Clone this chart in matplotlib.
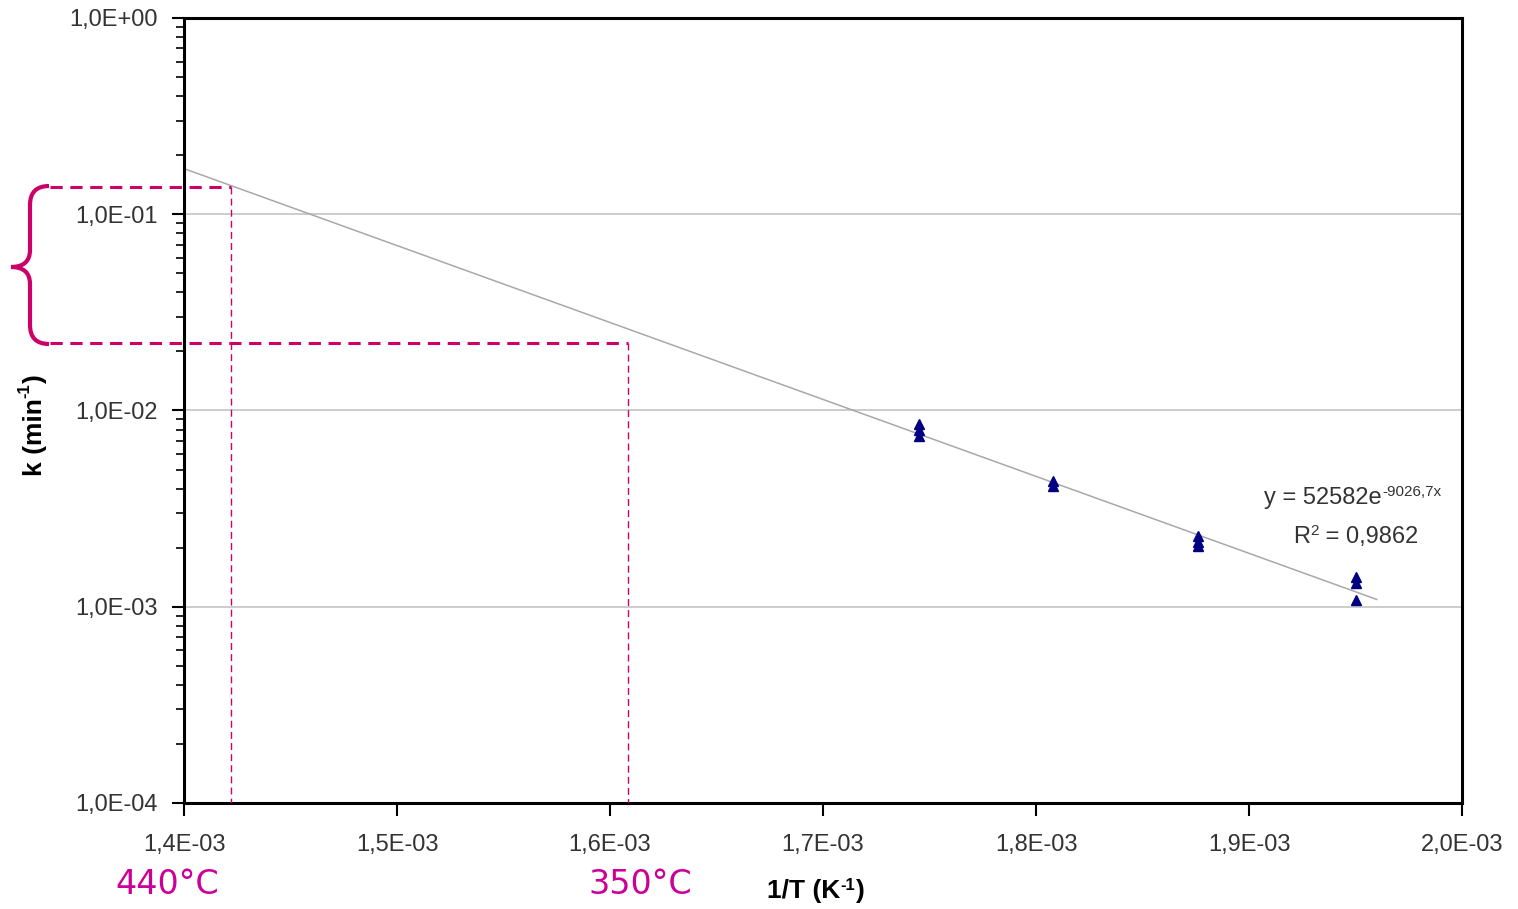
import matplotlib
matplotlib.use("Agg")
import matplotlib.pyplot as plt
from matplotlib.path import Path
from matplotlib.patches import PathPatch
from matplotlib.ticker import LogLocator, NullFormatter
import numpy as np

# measured points (1/T in K^-1, k in min^-1)
inv_T = [1.745e-3, 1.745e-3, 1.745e-3, 1.808e-3, 1.808e-3,
         1.876e-3, 1.876e-3, 1.876e-3, 1.950e-3, 1.950e-3, 1.950e-3]
k_vals = [8.5e-3, 8.0e-3, 7.4e-3, 4.35e-3, 4.1e-3,
          2.3e-3, 2.15e-3, 2.05e-3, 1.42e-3, 1.32e-3, 1.08e-3]

# exponential trend line from the chart label
fit_A = 52582
fit_b = -9026.7
fit_range = [1.4e-3, 1.96e-3]

# reading lines
read_invT = [1.422e-3, 1.6085e-3]
read_k = [0.138, 0.0221]
read_labels = ["440°C", "350°C"]

x_ticks = [1.4e-3, 1.5e-3, 1.6e-3, 1.7e-3, 1.8e-3, 1.9e-3, 2.0e-3]
x_ticklabels = ["1,4E-03", "1,5E-03", "1,6E-03", "1,7E-03", "1,8E-03", "1,9E-03", "2,0E-03"]
y_ticks = [1e-4, 1e-3, 1e-2, 1e-1, 1e0]
y_ticklabels = ["1,0E-04", "1,0E-03", "1,0E-02", "1,0E-01", "1,0E+00"]

plt.rcParams['font.family'] = ['Liberation Sans', 'DejaVu Sans']

W, H = 1518, 909
fig = plt.figure(figsize=(W / 100, H / 100), dpi=100)
ax = fig.add_axes([184 / W, 1 - 803 / H, (1462 - 184) / W, (803 - 18) / H])

magenta = '#CC0066'
text_col = '#333333'

ax.set_yscale('log')
ax.set_xlim(1.4e-3, 2.0e-3)
ax.set_ylim(1e-4, 1e0)

for y in [1e-3, 1e-2, 1e-1]:
    ax.axhline(y, color='#C8C8C8', lw=1.3, zorder=1)

fx = np.array(fit_range)
ax.plot(fx, fit_A * np.exp(fit_b * fx), color='#A8A8A8', lw=1.1, zorder=2)

ax.plot(inv_T, k_vals, linestyle='none', marker='^', color='#000080',
        markersize=7.5, zorder=3)

# reading lines: horizontal ones extend left past the axis
x0, x1 = ax.get_xlim()
x_left = x0 - (134 / 1278) * (x1 - x0)
for xv, kv in zip(read_invT, read_k):
    ax.plot([x_left, xv], [kv, kv], color=magenta, lw=2.2,
            dashes=(4, 2.5), clip_on=False, zorder=4)
    ax.plot([xv, xv], [kv, 1e-4], color=magenta, lw=1.0,
            dashes=(5, 3), zorder=4)

fig.text(167 / W, 1 - 884 / H, read_labels[0], color='#CC0099',
         fontsize=24, ha='center', va='center', family='DejaVu Sans')
fig.text(640 / W, 1 - 884 / H, read_labels[1], color='#CC0099',
         fontsize=24, ha='center', va='center', family='DejaVu Sans')

# curly brace
def fp(x, y):
    return (x / W, 1 - y / H)

verts = [fp(49, 186), fp(30, 186), fp(30, 205),
         fp(30, 250),
         fp(30, 267), fp(11, 267),
         fp(30, 267), fp(30, 284),
         fp(30, 325),
         fp(30, 344), fp(49, 344)]
codes = [Path.MOVETO, Path.CURVE3, Path.CURVE3,
         Path.LINETO,
         Path.CURVE3, Path.CURVE3,
         Path.CURVE3, Path.CURVE3,
         Path.LINETO,
         Path.CURVE3, Path.CURVE3]
fig.patches.append(PathPatch(Path(verts, codes), transform=fig.transFigure,
                             fill=False, edgecolor=magenta, lw=3))

ax.set_xticks(x_ticks)
ax.set_xticklabels(x_ticklabels)
ax.set_yticks(y_ticks)
ax.set_yticklabels(y_ticklabels)
ax.yaxis.set_minor_locator(LogLocator(base=10, subs=np.arange(2, 10)))
ax.yaxis.set_minor_formatter(NullFormatter())
ax.tick_params(axis='both', which='major', direction='out', length=9,
               width=1.5, labelsize=17, labelcolor=text_col, color='black')
ax.tick_params(axis='y', which='major', pad=10)
ax.tick_params(axis='x', which='major', pad=13)
ax.tick_params(axis='y', which='minor', direction='out', length=6, width=1.2)

for s in ax.spines.values():
    s.set_linewidth(2.2)
    s.set_color('black')

# trend line label, superscripts drawn as separate small texts
t1 = fig.text(1382 / W, 1 - 504 / H, "y = 52582e", ha='right', va='baseline',
              fontsize=17, color=text_col)
ax.annotate("-9026,7x", xy=(1, 1), xycoords=t1, xytext=(0, -6.5),
            textcoords='offset points', ha='left', va='baseline',
            fontsize=11, color=text_col)
t2 = fig.text(1310 / W, 1 - 543 / H, "R", ha='right', va='baseline',
              fontsize=17, color=text_col)
ax.annotate("2", xy=(1, 1), xycoords=t2, xytext=(0, -6.5),
            textcoords='offset points', ha='left', va='baseline',
            fontsize=11, color=text_col)
fig.text(1319 / W, 1 - 543 / H, " = 0,9862", ha='left', va='baseline',
         fontsize=17, color=text_col)

# axis titles with hyphen-style superscripts
yl = fig.text(35 / W, 1 - 437 / H, "k (min", rotation=90, ha='center',
              va='center', fontsize=19, fontweight='bold', color='black')
ys = ax.annotate("-1", xy=(0.5, 1), xycoords=yl, xytext=(-7, 0),
                 textcoords='offset points', rotation=90, ha='center',
                 va='bottom', fontsize=12, fontweight='bold', color='black')
ax.annotate(")", xy=(0.5, 1), xycoords=ys, xytext=(7, 0),
            textcoords='offset points', rotation=90, ha='center',
            va='bottom', fontsize=19, fontweight='bold', color='black')

xl = fig.text(767 / W, 1 - 898 / H, "1/T (K", ha='left', va='baseline',
              fontsize=19, fontweight='bold', color='black')
xs = ax.annotate("-1", xy=(1, 1), xycoords=xl, xytext=(0, -8),
                 textcoords='offset points', ha='left', va='baseline',
                 fontsize=12, fontweight='bold', color='black')
ax.annotate(")", xy=(1, 0), xycoords=(xs, xl), xytext=(1, 0),
            textcoords='offset points', ha='left', va='bottom',
            fontsize=19, fontweight='bold', color='black')

fig.savefig("out.png", dpi=100, facecolor='white')
